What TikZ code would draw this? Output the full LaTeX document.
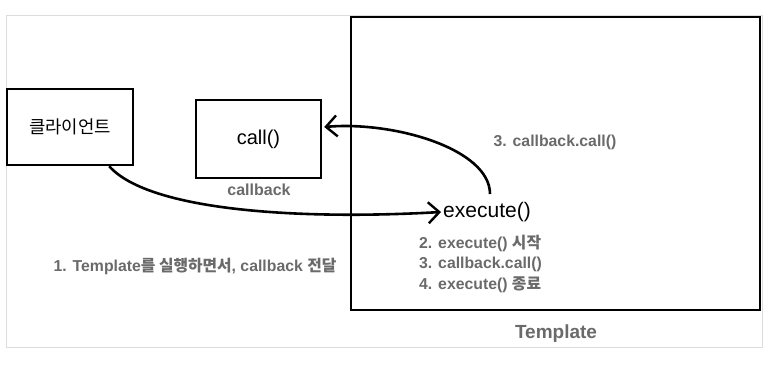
\documentclass[tikz,border=0pt]{standalone}
\usepackage{fontspec}
\setmainfont{Liberation Sans}
\newfontfamily\kr{Noto Sans CJK KR}
\usetikzlibrary{arrows.meta,positioning}
\definecolor{notegray}{HTML}{6A6A6A}
\definecolor{framegray}{HTML}{DCDCDC}
\begin{document}
\begin{tikzpicture}[x=1pt, y=-1pt,
    box/.style={draw, line width=2.4pt, inner sep=0pt, font=\fontsize{20}{24}\selectfont},
    note/.style={text=notegray, inner sep=0pt, font=\bfseries\fontsize{15.8}{20.5}\selectfont, align=left},
    flow/.style={line width=2.6pt, -{Straight Barb[length=11pt,width=21pt,line width=2.4pt]}}
]
\useasboundingbox (0,0) rectangle (768,365);
% outer frame
\draw[framegray, line width=1pt] (6,15) rectangle (762,347);

% boxes
\node[box, minimum width=409pt, minimum height=293pt] (template) at (555.5,163.5) {};
\node[box, minimum width=126pt, minimum height=76pt, font=\kr\fontsize{17.8}{20}\selectfont] (client) at (70,127) {클라이언트};
\node[box, minimum width=125pt, minimum height=78pt] (callbox) at (258.5,139) {call()};

% labels
\node[note, font=\bfseries\fontsize{16}{20}\selectfont] (cblabel) at (259,190) {callback};
\node[font=\fontsize{21}{24}\selectfont, inner sep=2pt] (execute) at (487,212) {execute()};
\node[note] (calllabel) at (555,142) {3. callback.call()};
\node[note, anchor=west] (steps) at (419,263.5) {2. execute() {\kr 시작}\\3. callback.call()\\4. execute() {\kr 종료}};
\node[note] (passlabel) at (195,266) {1. Template{\kr 를 실행하면서}, callback {\kr 전달}};
\node[note, font=\bfseries\fontsize{19}{22}\selectfont] (tlabel) at (556,334) {Template};

% arrows
\draw[flow] (client.-45) .. controls +(40,45) and +(-140,8) .. (execute.west);
\draw[flow] ([yshift=6pt,xshift=3pt]execute.north) .. controls +(0,-45) and +(70,-6) .. ([yshift=12pt,xshift=2pt]callbox.east);
\end{tikzpicture}
\end{document}
